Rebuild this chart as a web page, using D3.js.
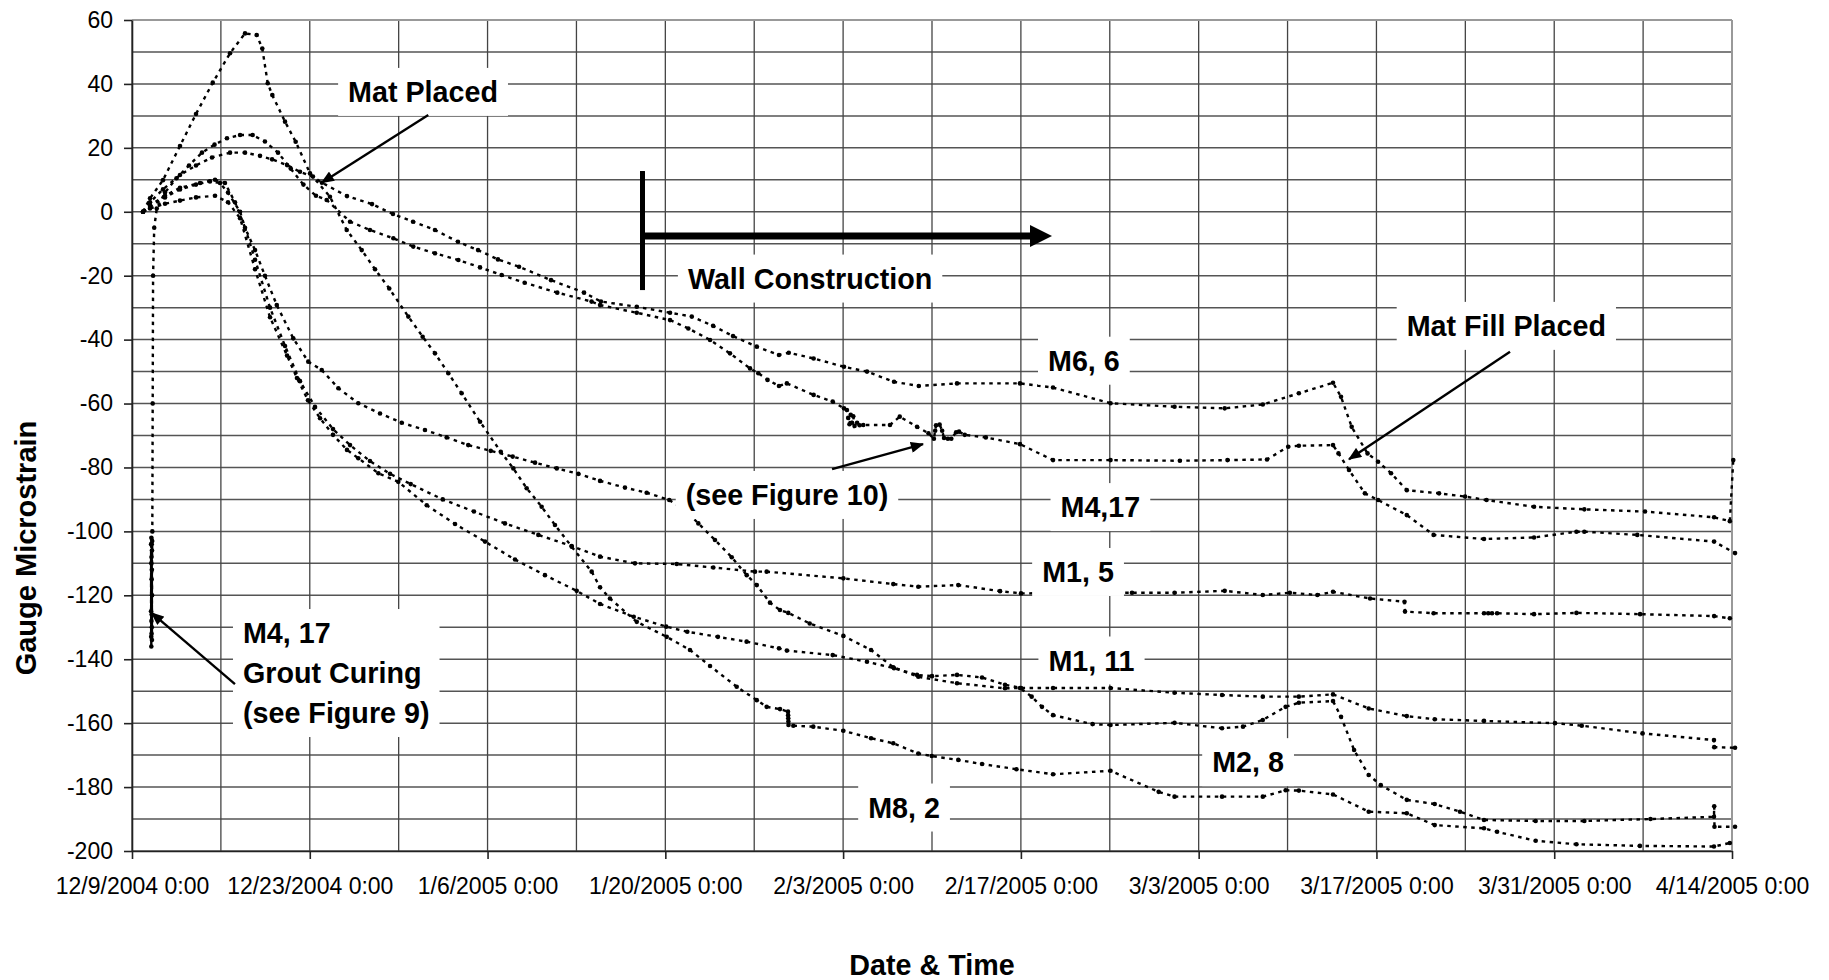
<!DOCTYPE html>
<html>
<head>
<meta charset="utf-8">
<script src="https://cdn.jsdelivr.net/npm/d3@7"></script>
<style>
  html, body { margin: 0; padding: 0; background: #fff; }
  svg { display: block; font-family: "Liberation Sans", Arial, Helvetica, sans-serif; }
</style>
</head>
<body>
<svg id="chart" width="1829" height="980"></svg>
<script>
// ---- time axis: elapsed days since 12/9/2004 0:00 ----
const startMs = Date.UTC(2004, 11, 9);
const endMs = Date.UTC(2005, 3, 14);
const DAY_MS = 864e5;

const xTickDays = [0, 14, 28, 42, 56, 70, 84, 98, 112, 126];
const xTickLabels = ["12/9/2004 0:00", "12/23/2004 0:00", "1/6/2005 0:00", "1/20/2005 0:00",
  "2/3/2005 0:00", "2/17/2005 0:00", "3/3/2005 0:00", "3/17/2005 0:00", "3/31/2005 0:00", "4/14/2005 0:00"];
const yTicks = [60, 40, 20, 0, -20, -40, -60, -80, -100, -120, -140, -160, -180, -200];

// ---- gauge readings: [elapsed days, microstrain] ----
const m6_6 = [[0.87,0],[1.42,3],[2.44,7],[3.78,11.5],[5.04,14.5],[6.30,17],[7.72,18.5],[8.90,18.5],[10.08,17.5],[11.03,16.4],[12.21,14.6],[13.23,12.5],[14.25,11],[14.96,9.1],[16.93,4.9],[18.90,2.4],[20.55,-0.7],[22.13,-3.1],[23.86,-5.7],[25.67,-9.4],[27.25,-12],[28.82,-14.9],[30.48,-17.2],[33.00,-21.4],[35.60,-25.3],[36.93,-28.1],[39.75,-29.7],[42.37,-31.6],[44.08,-32.8],[45.76,-35.7],[47.33,-38.9],[49.20,-42.2],[50.95,-44.8],[51.72,-44.1],[53.68,-45.9],[56.07,-48.5],[57.88,-50],[60.01,-53.2],[61.96,-54.5],[64.97,-53.7],[69.93,-53.7],[72.53,-55],[77.06,-59.9],[82.10,-61],[86.05,-61.5],[89.05,-60.3],[91.89,-56.8],[94.58,-53.5],[95.21,-57.9],[96.05,-67.3],[97.30,-75.6],[98.13,-78.2],[99.15,-81.8],[100.39,-87.1],[102.93,-88.1],[104.98,-89.1],[106.67,-90.2],[110.41,-92.3],[114.37,-93.1],[119.15,-93.8],[124.59,-95.6],[125.83,-96.8],[126.1,-77.7]];

const m4_17 = [[1.50,-125],[1.505,-104],[1.51,-133],[1.515,-110],[1.52,-136],[1.525,-102],[1.53,-128],[1.535,-108],[1.54,-132],[1.545,-115],[1.55,-126],[1.555,-104],[1.56,-130],[1.565,-112],[1.57,-134],[1.575,-106],[1.58,-120],[1.59,-103],[1.60,-100],[1.63,-60],[1.66,-20],[1.75,-5],[1.95,1],[2.60,6],[3.50,10.5],[4.49,14.5],[5.51,18.5],[6.50,21],[7.48,23],[8.51,24],[9.50,24],[10.47,22],[11.50,18.5],[12.50,13.5],[13.50,8.5],[14.49,5],[15.33,3.7],[17.17,-3.1],[18.74,-5.7],[20.58,-8.3],[22.15,-10.9],[23.86,-13],[25.70,-15.1],[27.41,-17.4],[29.11,-19.8],[30.92,-22.2],[33.49,-25.3],[36.19,-28.1],[36.86,-29.2],[39.75,-31.6],[42.37,-33.9],[43.81,-36.5],[45.52,-40.1],[47.09,-44.3],[48.67,-49],[49.32,-50.5],[50.05,-52.6],[50.95,-54.5],[51.57,-53.7],[53.68,-57.3],[55.18,-59.4],[56.07,-61.5],[56.30,-62],[56.40,-64.5],[56.50,-66.5],[56.60,-63.5],[56.70,-66],[56.80,-64],[56.90,-67],[57.10,-66],[57.30,-66.8],[57.59,-66.7],[59.69,-66.7],[60.46,-64.1],[61.82,-67.3],[62.72,-69.3],[63.15,-71],[63.25,-68.5],[63.32,-66.8],[63.60,-66.6],[63.80,-68.5],[63.95,-70.8],[64.25,-71],[64.52,-71],[64.90,-69],[65.13,-68.8],[65.58,-69.8],[67.24,-70.6],[69.93,-72.7],[72.53,-77.7],[77.06,-77.7],[82.52,-77.9],[86.27,-77.7],[89.38,-77.5],[91.05,-73.5],[91.89,-73.2],[94.58,-73],[95.01,-75.6],[95.84,-80.8],[97.09,-88.1],[98.13,-90.2],[100.39,-94.9],[102.50,-101.1],[106.47,-102.4],[110.41,-101.9],[113.75,-100.1],[114.37,-100.1],[118.54,-101.1],[124.59,-103.2],[126.24,-106.8]];

const m1_5 = [[0.87,0],[1.42,1.5],[2.60,4.5],[3.78,7],[5.04,8.5],[6.14,9.5],[6.93,9],[7.56,6],[8.51,0],[9.69,-15],[10.87,-30],[12.05,-42],[13.23,-53],[14.41,-61],[15.83,-68],[17.17,-73],[18.74,-78],[20.32,-82],[21.95,-85.2],[24.47,-90],[26.93,-93.8],[29.37,-97.5],[32.00,-101.1],[34.63,-104.6],[36.86,-107.9],[39.61,-110],[42.90,-110.2],[45.78,-111.3],[49.06,-112.6],[49.98,-112.6],[56.02,-114.7],[59.95,-116.5],[61.92,-117.3],[65.07,-116.8],[68.36,-118.7],[70.01,-119.4],[78.75,-119.2],[82.10,-119.2],[86.05,-118.6],[89.05,-119.9],[91.18,-119.2],[93.35,-119.9],[94.58,-118.9],[97.50,-121],[100.21,-122],[100.25,-125.1],[102.50,-125.6],[106.47,-125.6],[106.8,-125.6],[107.1,-125.6],[107.50,-125.6],[110.41,-125.9],[113.75,-125.5],[118.76,-125.9],[124.59,-126.5],[125.83,-127.2]];

const m1_11 = [[0.87,0],[1.42,1],[2.60,2.5],[3.78,3.5],[5.04,4.5],[6.54,5],[7.56,3],[8.51,-2],[9.69,-18],[10.87,-33],[12.21,-45],[12.99,-52],[13.86,-59],[14.81,-64.6],[15.83,-69.8],[16.93,-74.5],[17.82,-77.1],[19.40,-81.8],[20.97,-84.5],[23.21,-91.8],[25.44,-97.7],[27.80,-103.2],[30.16,-108.8],[32.52,-113.7],[35.02,-118.6],[36.86,-122.7],[39.51,-126.7],[42.07,-129.8],[43.73,-131.4],[46.14,-133],[48.40,-134.5],[50.95,-136.6],[51.57,-137.3],[55.18,-138.7],[57.88,-140.8],[60.01,-142.8],[61.82,-144.9],[63.00,-145.3],[64.97,-144.9],[66.94,-145.7],[68.75,-148],[70.01,-149],[72.53,-149],[77.06,-149],[82.10,-150.5],[85.84,-151.2],[89.05,-151.7],[91.89,-151.7],[94.58,-151],[97.39,-155.4],[100.39,-157.8],[102.59,-158.8],[106.47,-159.3],[112.06,-160],[114.17,-160.8],[118.95,-163.2],[124.58,-165.3],[124.60,-167.5],[126.24,-167.7]];

const m2_8 = [[0.87,0],[1.42,2],[2.60,5],[3.78,7.5],[5.36,9],[6.54,10],[7.32,9],[8.11,3],[8.90,-5],[9.69,-12],[10.47,-20],[11.40,-29.2],[12.70,-39.6],[13.88,-46.9],[14.94,-49.5],[16.25,-55.2],[17.82,-59.9],[19.53,-63.1],[21.24,-66],[23.07,-68.3],[24.78,-70.6],[26.48,-73],[28.25,-74.8],[29.98,-76.6],[31.74,-78.5],[33.45,-80.3],[35.15,-82],[36.86,-84.2],[38.82,-86.3],[40.53,-87.9],[42.31,-90.2],[43.47,-93],[44.60,-97.5],[45.91,-102.7],[47.23,-108.1],[48.41,-113.7],[49.20,-116.8],[50.24,-122.3],[51.03,-124.6],[51.68,-125.5],[53.37,-128.8],[56.02,-132.7],[58.20,-137.1],[59.95,-142.5],[61.92,-145.5],[64.97,-147.5],[68.75,-149.1],[69.93,-149],[70.85,-151.7],[71.66,-154.9],[72.53,-157.5],[75.64,-160.3],[77.06,-160.6],[82.10,-159.9],[85.84,-161.6],[87.49,-161.1],[89.05,-159],[90.85,-154.9],[91.89,-153.6],[94.58,-153.1],[95.21,-158],[96.24,-168.4],[97.39,-176.2],[98.34,-179.4],[100.39,-184],[102.59,-185.3],[104.58,-187.7],[106.47,-190.3],[110.54,-190.6],[114.37,-190.6],[119.58,-190],[124.58,-189.3],[124.60,-186],[124.62,-192.4],[126.24,-192.4]];

const m8_2 = [[0.87,0],[1.42,4.2],[2.44,9.9],[3.78,20.6],[5.04,30.6],[6.36,40.4],[7.72,49.6],[8.90,55.8],[9.82,55.3],[10.26,51.1],[10.69,40.2],[11.05,36.5],[12.05,28.2],[12.89,21.9],[14.02,12],[15.59,4.7],[16.91,-5.7],[18.09,-12],[19.14,-18],[20.26,-24],[21.76,-32.8],[22.89,-39.1],[23.86,-44.3],[24.91,-50.5],[25.96,-56.8],[27.41,-65.7],[29.04,-75.1],[30.03,-80.3],[31.08,-86.5],[32.26,-92.3],[33.31,-98],[34.63,-104.8],[36.20,-112.6],[36.86,-117.5],[37.64,-121],[39.75,-128.3],[42.11,-133],[43.94,-137.1],[45.52,-142.1],[47.62,-148.6],[49.20,-152.8],[49.98,-154.9],[51.03,-155.6],[51.66,-156.4],[51.67,-157.5],[51.68,-158.5],[51.69,-159.5],[51.70,-160.6],[52.08,-160.8],[53.65,-161.1],[56.02,-162.4],[58.20,-164.7],[59.95,-166.3],[61.92,-169.5],[62.98,-170.3],[65.07,-171.5],[66.94,-172.8],[69.65,-174.4],[72.53,-176],[77.06,-174.9],[80.85,-181.5],[82.10,-183],[85.84,-183],[89.05,-183],[90.85,-181],[91.89,-181.1],[94.58,-182.3],[97.39,-187.7],[100.39,-188.2],[102.59,-191.9],[106.47,-192.9],[107.50,-194],[110.54,-196.8],[113.75,-197.9],[118.75,-198.4],[124.58,-198.6],[125.83,-197.5]];

const seriesList = [m6_6, m4_17, m1_5, m1_11, m2_8, m8_2];

// ---- annotation text, anchored in data units (days, microstrain) ----
const gaugeLabels = [
  { lines: ["M6, 6"], day: 74.96, val: -46.6 },
  { lines: ["M4,17"], day: 76.26, val: -92.4 },
  { lines: ["M1, 5"], day: 74.5, val: -112.7 },
  { lines: ["M1, 11"], day: 75.56, val: -140.4 },
  { lines: ["M2, 8"], day: 87.89, val: -172.2 },
  { lines: ["M8, 2"], day: 60.8, val: -186.4 },
  { lines: ["Mat Placed"], day: 22.92, val: 37.5 },
  { lines: ["Wall Construction"], day: 53.4, val: -20.9 },
  { lines: ["Mat Fill Placed"], day: 108.23, val: -35.7 },
  { lines: ["(see Figure 10)"], day: 51.58, val: -88.6 },
  { lines: ["M4, 17", "Grout Curing", "(see Figure 9)"], day: 8.74, val: -131.8, left: true }
];
// pointer arrows: [from day, from val, to day, to val]
const pointers = [
  [23.33, 30.3, 14.94, 9.1],
  [55.13, -80.5, 62.29, -72.7],
  [108.52, -43.8, 95.84, -77.4],
  [8.11, -147.8, 1.55, -125.5]
];
// wall construction period: start bar and arrow to the right
const wallStartDay = 40.2, wallBarTop = 12.75, wallBarBottom = -24.5;
const wallArrowVal = -7.6, wallArrowEndDay = 72.45;

// ---- layout ----
const svg = d3.select("#chart");
const pL = 132, pR = 1732, pT = 20, pB = 851;
const toDate = d => new Date(startMs + d * DAY_MS);

const x = d3.scaleUtc().domain([new Date(startMs), new Date(endMs)]).range([pL, pR]);
const y = d3.scaleLinear().domain([-200, 60]).range([pB, pT]);

svg.append("rect").attr("width", 1829).attr("height", 980).attr("fill", "#fff");

// gridlines: every 10 microstrain, every 7 days
const grid = svg.append("g");
grid.selectAll("line.h").data(d3.range(-200, 61, 10)).join("line")
  .attr("x1", pL).attr("x2", pR)
  .attr("y1", d => y(d)).attr("y2", d => y(d))
  .attr("stroke", "#555").attr("stroke-width", 1.5);
grid.selectAll("line.v").data(d3.range(0, 127, 7)).join("line")
  .attr("x1", d => x(toDate(d))).attr("x2", d => x(toDate(d)))
  .attr("y1", pT).attr("y2", pB)
  .attr("stroke", "#444").attr("stroke-width", 1.3);

// plot frame
svg.append("line").attr("x1", pL).attr("x2", pR).attr("y1", pT).attr("y2", pT)
  .attr("stroke", "#999").attr("stroke-width", 2);
svg.append("line").attr("x1", pR).attr("x2", pR).attr("y1", pT).attr("y2", pB)
  .attr("stroke", "#999").attr("stroke-width", 2);

// axes (plain hyphen minus on negative labels)
const yAxis = d3.axisLeft(y).tickValues(yTicks).tickSize(8).tickSizeOuter(0).tickPadding(11)
  .tickFormat(d => String(d));
const gy = svg.append("g").attr("transform", `translate(${pL},0)`).call(yAxis);
gy.selectAll("text").attr("font-size", 23).attr("fill", "#000")
  .style("font-family", '"Liberation Sans", Arial, sans-serif');
gy.selectAll("line, path").attr("stroke", "#222").attr("stroke-width", 1.6);

const xAxis = d3.axisBottom(x).tickValues(xTickDays.map(toDate)).tickSize(8).tickSizeOuter(0)
  .tickPadding(19).tickFormat((d, i) => xTickLabels[i]);
const gx = svg.append("g").attr("transform", `translate(0,${pB})`).call(xAxis);
gx.selectAll("text").attr("font-size", 23).attr("fill", "#000")
  .style("font-family", '"Liberation Sans", Arial, sans-serif');
gx.selectAll("line, path").attr("stroke", "#222").attr("stroke-width", 1.6);

// axis titles
svg.append("text").attr("x", (pL + pR) / 2).attr("y", 975)
  .attr("text-anchor", "middle").attr("font-size", 28.7).attr("font-weight", "bold")
  .text("Date & Time");
svg.append("text").attr("transform", "translate(36,548) rotate(-90)")
  .attr("text-anchor", "middle").attr("font-size", 29).attr("font-weight", "bold")
  .text("Gauge Microstrain");

// gauge series: dotted lines with small markers
const line = d3.line().x(d => x(toDate(d[0]))).y(d => y(d[1]));
const seriesG = svg.append("g");
seriesList.forEach(s => {
  seriesG.append("path").datum(s).attr("d", line)
    .attr("fill", "none").attr("stroke", "#000").attr("stroke-width", 2.4)
    .attr("stroke-dasharray", "3.5,4.5");
  seriesG.append("g").selectAll("circle").data(s).join("circle")
    .attr("cx", d => x(toDate(d[0]))).attr("cy", d => y(d[1]))
    .attr("r", 2.3).attr("fill", "#000");
});

// wall construction marker
svg.append("line")
  .attr("x1", x(toDate(wallStartDay))).attr("x2", x(toDate(wallStartDay)))
  .attr("y1", y(wallBarTop)).attr("y2", y(wallBarBottom))
  .attr("stroke", "#000").attr("stroke-width", 5);
const ax0 = x(toDate(wallStartDay)), ax1 = x(toDate(wallArrowEndDay)), ay = y(wallArrowVal);
svg.append("line").attr("x1", ax0).attr("x2", ax1 - 20).attr("y1", ay).attr("y2", ay)
  .attr("stroke", "#000").attr("stroke-width", 7);
svg.append("path").attr("d", `M${ax1},${ay} L${ax1 - 22},${ay - 11} L${ax1 - 22},${ay + 11} Z`)
  .attr("fill", "#000");

// label boxes (white background hides grid and lines beneath)
const labelG = svg.append("g");
gaugeLabels.forEach(lb => {
  const g = labelG.append("g");
  const cx = x(toDate(lb.day)), cy = y(lb.val);
  const t = g.append("text").attr("font-size", 28.7).attr("font-weight", "bold")
    .attr("text-anchor", lb.left ? "start" : "middle");
  lb.lines.forEach((s, i) => {
    t.append("tspan").attr("x", cx).attr("y", cy + i * 40)
      .attr("dominant-baseline", "central").text(s);
  });
  const bb = t.node().getBBox();
  g.insert("rect", "text").attr("x", bb.x - 10).attr("y", bb.y - 8)
    .attr("width", bb.width + 20).attr("height", bb.height + 16).attr("fill", "#fff");
});

// pointer arrows
svg.append("defs").append("marker").attr("id", "head")
  .attr("viewBox", "0 0 12 10").attr("refX", 11).attr("refY", 5)
  .attr("markerWidth", 14).attr("markerHeight", 11).attr("markerUnits", "userSpaceOnUse")
  .attr("orient", "auto")
  .append("path").attr("d", "M0,0 L12,5 L0,10 Z").attr("fill", "#000");
svg.append("g").selectAll("line").data(pointers).join("line")
  .attr("x1", d => x(toDate(d[0]))).attr("y1", d => y(d[1]))
  .attr("x2", d => x(toDate(d[2]))).attr("y2", d => y(d[3]))
  .attr("stroke", "#000").attr("stroke-width", 2.4).attr("marker-end", "url(#head)");
</script>
</body>
</html>
